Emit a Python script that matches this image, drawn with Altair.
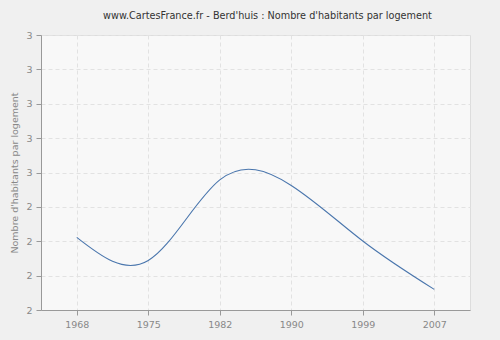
import altair as alt
import pandas as pd

years = ["1968", "1975", "1982", "1990", "1999", "2007"]
values = [2.264, 2.18, 2.473, 2.453, 2.251, 2.075]
y_ticks = [2.0, 2.125, 2.25, 2.375, 2.5, 2.625, 2.75, 2.875, 3.0]

df = pd.DataFrame({"annee": years, "valeur": values})

FONT = "DejaVu Sans"

line = alt.Chart(df).mark_line(
    interpolate="natural", color="#4a76ad", strokeWidth=1.1
).encode(
    x=alt.X(
        "annee:O",
        sort=years,
        scale=alt.Scale(type="point", padding=0.5),
        axis=alt.Axis(
            title=None,
            labelAngle=0,
            grid=True,
            gridDash=[4, 3],
            gridColor="#e2e2e2",
            domainColor="#999999",
            tickColor="#999999",
            tickSize=5,
            labelColor="#888888",
            labelFont=FONT,
            labelFontSize=9.5,
            labelPadding=4,
        ),
    ),
    y=alt.Y(
        "valeur:Q",
        scale=alt.Scale(domain=[2, 3], nice=False, zero=False),
        axis=alt.Axis(
            title="Nombre d'habitants par logement",
            values=y_ticks,
            format=".0f",
            grid=True,
            gridDash=[4, 3],
            gridColor="#e2e2e2",
            domainColor="#999999",
            tickColor="#999999",
            tickSize=5,
            labelColor="#888888",
            labelFont=FONT,
            labelFontSize=9.5,
            labelPadding=4,
            titleColor="#888888",
            titleFont=FONT,
            titleFontSize=9.5,
            titleFontWeight="normal",
            titlePadding=6,
        ),
    ),
)

chart = line.properties(
    width=429,
    height=275,
    title=alt.TitleParams(
        "www.CartesFrance.fr - Berd'huis : Nombre d'habitants par logement",
        font=FONT,
        fontSize=9.7,
        fontWeight="normal",
        color="#333333",
        anchor="middle",
        dx=12,
        offset=9,
    ),
    autosize=alt.AutoSizeParams(type="none"),
    padding={"left": 41, "top": 35, "right": 30, "bottom": 30},
).configure(background="#f0f0f0").configure_view(
    fill="#f8f8f8", stroke="#dddddd"
)

chart.save("out.html", embed_options={"renderer": "svg", "actions": False})
